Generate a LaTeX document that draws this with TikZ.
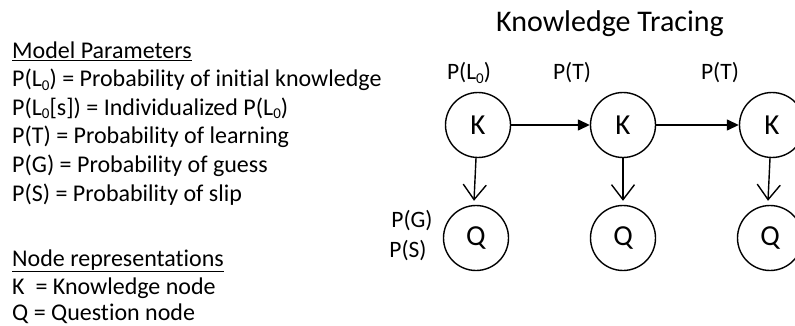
\documentclass[tikz,border=0pt]{standalone}
\usepackage{fontspec}
\setmainfont[Ligatures=NoCommon]{Carlito}
\usetikzlibrary{arrows.meta}
% L with a lowered small zero
\newcommand{\Lzero}{L\raisebox{-0.3ex}{\fontsize{15}{15}\selectfont 0}}
\begin{document}
\begin{tikzpicture}[x=1pt,y=-1pt,
  state/.style={circle, draw, line width=1.4pt, minimum size=65pt, inner sep=0pt,
                font=\fontsize{29}{29}\selectfont},
  txt/.style={anchor=base west, inner sep=0pt, font=\fontsize{24}{24}\selectfont},
  lbl/.style={anchor=base, inner sep=0pt, font=\fontsize{23.5}{23.5}\selectfont},
  trans/.style={line width=1.4pt, -{Triangle[length=12pt,width=11pt]}},
  emit/.style={line width=1.4pt, -{Straight Barb[length=15pt,width=23pt,line width=1.4pt]}}
]
\useasboundingbox (0,0) rectangle (795,326);

% parameter legend
\node[txt] (mh) at (12,59) {\underline{Model Parameters}};
\node[txt] (m1) at (12,87) {P(\Lzero) = Probability of initial knowledge};
\node[txt] (m2) at (12,115.5) {P(\Lzero[s]) = Individualized P(\Lzero)};
\node[txt] (m3) at (12,144) {P(T) = Probability of learning};
\node[txt] (m4) at (12,172.5) {P(G) = Probability of guess};
\node[txt] (m5) at (12,201) {P(S) = Probability of slip};

% node legend
\node[txt] (nh) at (12,266) {\underline{Node representations}};
\node[txt] (n1) at (12,294) {K\ \ = Knowledge node};
\node[txt] (n2) at (12,320) {Q = Question node};

% title
\node[anchor=base, inner sep=0pt, font=\fontsize{30}{30}\selectfont] (title) at (610,32) {Knowledge Tracing};

% knowledge and question nodes
\node[state] (k1) at (478,125) {K};
\node[state] (k2) at (623,125) {K};
\node[state] (k3) at (772,125) {K};
\node[state] (q1) at (476,238) {Q};
\node[state] (q2) at (623,238) {Q};
\node[state] (q3) at (770,238) {Q};

% parameter labels
\node[lbl] (pl0) at (469,80) {P(\Lzero)};
\node[lbl] (pt1) at (572,80) {P(T)};
\node[lbl] (pt2) at (720,80) {P(T)};
\node[lbl] (pg) at (412,227) {P(G)};
\node[lbl] (ps) at (408,257) {P(S)};

% transitions
\draw[trans] (k1) -- (k2);
\draw[trans] (k2) -- (k3);

% emissions
\draw[emit] ([xshift=-2pt]k1.south) -- ([xshift=-2pt,yshift=4pt]q1.north);
\draw[emit] (k2.south) -- ([yshift=4pt]q2.north);
\draw[emit] ([xshift=-2pt]k3.south) -- ([xshift=-2pt,yshift=4pt]q3.north);
\end{tikzpicture}
\end{document}
